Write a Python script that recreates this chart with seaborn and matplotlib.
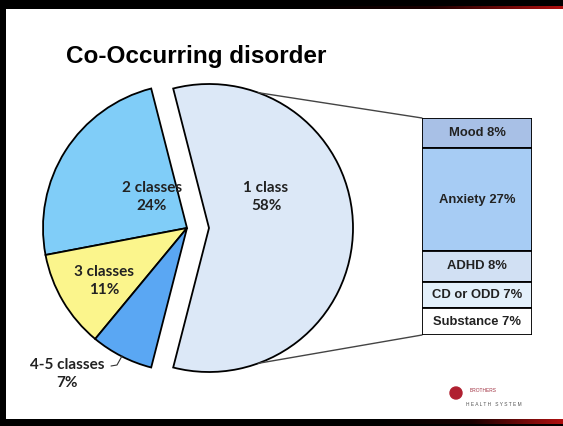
import numpy as np
import matplotlib
matplotlib.use("Agg")
import matplotlib.pyplot as plt
import seaborn as sns

# pie: number of classes affected
pie_labels = ["1 class", "2 classes", "3 classes", "4-5 classes"]
pie_values = [58, 24, 11, 7]
pie_colors = ["#dce8f7", "#80cdf8", "#fbf58c", "#5aa7f3"]

# bar: breakdown of the 1 class slice (top to bottom)
bar_labels = ["Mood", "Anxiety", "ADHD", "CD or ODD", "Substance"]
bar_values = [8, 27, 8, 7, 7]
bar_colors = ["#a8c0e6", "#a7ccf4", "#d1e0f3", "#e3f0fb", "#ffffff"]

sns.set_style("white")
plt.rcParams["font.family"] = ["Liberation Sans", "DejaVu Sans"]

W, H = 563, 426
fig = plt.figure(figsize=(W / 100, H / 100), dpi=100)
fig.patch.set_facecolor("black")

ax = fig.add_axes([0, 0, 1, 1])

# slide background with frame
ax.add_patch(plt.Rectangle((6, H - 419), W - 6, 410, facecolor="white", edgecolor="none", zorder=0))
grad = np.linspace(0, 1, 256).reshape(1, -1)
cmap = matplotlib.colors.LinearSegmentedColormap.from_list("fr", ["#000000", "#1a0000", "#b01010"])
ax.imshow(grad, extent=(300, W, H - 9, H - 6), cmap=cmap, aspect="auto", zorder=1)
ax.imshow(grad, extent=(380, W, 2, H - 419), cmap=cmap, aspect="auto", zorder=1)

ax.text(66, H - 57, "Co-Occurring disorder", fontsize=17.5, fontweight="bold",
        ha="left", va="center", color="black")

cx, cy, r, shift = 187, H - 228, 144, 22
half = pie_values[0] / 100 * 180
wedges, _ = ax.pie(pie_values, colors=pie_colors, startangle=-half, counterclock=True,
                   explode=[shift, 0, 0, 0], center=(cx, cy), radius=r,
                   wedgeprops=dict(edgecolor="black", linewidth=1.3), frame=True)
ax.set_xlim(0, W)
ax.set_ylim(0, H)
ax.set_aspect("auto")
ax.axis("off")

lab_font = dict(fontsize=11, fontweight="bold", family=["Lato", "DejaVu Sans"],
                ha="center", va="center", color="#222222", linespacing=1.3)
ax.text(266, H - 197, f"{pie_labels[0]}\n{pie_values[0]}%", **lab_font)
ax.text(152, H - 197, f"{pie_labels[1]}\n{pie_values[1]}%", **lab_font)
ax.text(104, H - 281, f"{pie_labels[2]}\n{pie_values[2]}%", **lab_font)
ax.text(67, H - 374, f"{pie_labels[3]}\n{pie_values[3]}%", **lab_font)
ax.plot([111, 117, 122], [H - 366, H - 365, H - 356], color="#333333", lw=0.8)

# bar of pie
bx, bw, btop, bbot = 422, 110, 118, 335
bax = fig.add_axes([bx / W, (H - bbot) / H, bw / W, (bbot - btop) / H])
total = sum(bar_values)
bottoms = total - np.cumsum(bar_values)
bax.bar(0, bar_values, bottom=bottoms, width=1, color=bar_colors,
        edgecolor="black", linewidth=1.3)
for lab, v, b in zip(bar_labels, bar_values, bottoms):
    bax.text(0, b + v / 2, f"{lab} {v}%", ha="center", va="center",
             fontsize=9.4, fontweight="bold", color="#222222")
bax.set_xlim(-0.5, 0.5)
bax.set_ylim(0, total)
bax.axis("off")

# connector lines from the exploded slice to the bar
ox = cx + shift
a1, a2 = np.deg2rad(70), np.deg2rad(-70)
ax.plot([ox + r * np.cos(a1), bx], [cy + r * np.sin(a1), H - btop], color="#444444", lw=1)
ax.plot([ox + r * np.cos(a2), bx], [cy + r * np.sin(a2), H - bbot], color="#444444", lw=1)

# logo remnant
ax.add_patch(plt.Circle((456, H - 393), 6, color="#b02030", zorder=3))
ax.text(470, H - 391, "BROTHERS", fontsize=3.5, color="#a03040", ha="left", va="center")
ax.text(466, H - 405, "H E A L T H   S Y S T E M", fontsize=3.5, color="#555555", ha="left", va="center")

fig.savefig("out.png", dpi=100, facecolor=fig.get_facecolor())
